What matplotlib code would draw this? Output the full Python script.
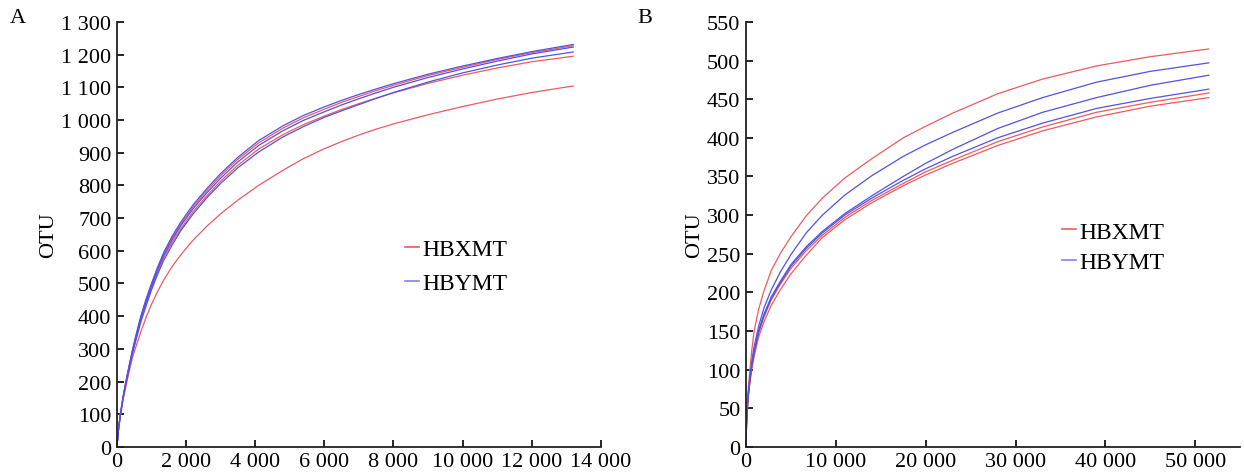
import matplotlib
matplotlib.use("Agg")
import matplotlib.pyplot as plt
from matplotlib.ticker import FuncFormatter
from matplotlib.lines import Line2D

plt.rcParams['font.family'] = ['Liberation Serif', 'DejaVu Serif']

# Panel A: rarefaction curves (sequences sampled vs. OTU)
xA = [0, 50, 100, 180, 260, 350, 450, 570, 700, 850, 1000, 1170, 1350, 1600,
      1850, 2200, 2600, 3000, 3500, 4100, 4800, 5400, 6000, 6500, 7000, 7500,
      8000, 9000, 10000, 11000, 12000, 13200]
a_red = [
    [0, 60, 100, 154, 199, 245, 295, 347, 400, 450, 496, 544, 589, 639, 682, 734,
     784, 830, 880, 930, 975, 1007, 1033, 1054, 1072, 1090, 1106, 1136, 1161, 1185, 1206, 1227],
    [0, 59, 98, 152, 196, 241, 290, 340, 391, 440, 486, 533, 578, 626, 668, 719,
     768, 813, 862, 911, 955, 986, 1012, 1032, 1050, 1067, 1083, 1112, 1137, 1159, 1178, 1195],
    [0, 57, 95, 145, 186, 229, 274, 313, 355, 398, 436, 474, 510, 552, 588, 632,
     675, 713, 755, 800, 846, 882, 912, 934, 954, 972, 988, 1016, 1041, 1064, 1084, 1104],
]
a_blue = [
    [0, 60, 100, 155, 200, 247, 297, 350, 403, 455, 500, 548, 594, 645, 688, 740,
     790, 836, 886, 937, 982, 1014, 1040, 1060, 1078, 1095, 1111, 1140, 1165, 1188, 1209, 1231],
    [0, 59, 99, 153, 198, 244, 293, 345, 397, 446, 492, 540, 585, 634, 677, 728,
     777, 822, 872, 922, 967, 999, 1025, 1046, 1065, 1083, 1100, 1130, 1156, 1180, 1202, 1223],
    [0, 58, 97, 150, 193, 237, 285, 334, 385, 433, 480, 526, 570, 618, 662, 712,
     762, 806, 854, 902, 948, 980, 1008, 1028, 1047, 1066, 1084, 1116, 1144, 1168, 1189, 1208],
]

# Panel B
xB = [0, 50, 100, 200, 400, 650, 900, 1400, 2000, 2800, 3800, 5000, 6700,
      8500, 11000, 14000, 17500, 20000, 23000, 28000, 33000, 39000, 45000, 51500]
b_red = [
    [0, 30, 45, 68, 96, 126, 150, 178, 202, 228, 250, 272, 299, 322, 348, 373,
     400, 415, 432, 457, 476, 493, 505, 515],
    [0, 28, 41, 61, 84, 105, 121, 147, 168, 190, 210, 231, 254, 274, 297, 319,
     341, 356, 371, 395, 414, 433, 446, 458],
    [0, 26, 38, 57, 80, 101, 117, 142, 162, 183, 203, 224, 248, 271, 294, 316,
     338, 352, 367, 390, 409, 427, 441, 452],
]
b_blue = [
    [0, 28, 42, 63, 88, 112, 130, 156, 180, 203, 226, 249, 277, 300, 326, 351,
     376, 391, 407, 432, 452, 472, 486, 497],
    [0, 27, 40, 60, 84, 106, 123, 150, 172, 194, 214, 236, 259, 279, 302, 325,
     350, 367, 385, 412, 433, 452, 468, 481],
    [0, 27, 40, 60, 83, 105, 122, 149, 170, 192, 212, 234, 257, 277, 300, 322,
     345, 360, 376, 400, 419, 438, 451, 463],
]

groups = ['HBXMT', 'HBYMT']
red = '#ee5a5e'
blue = '#5252e6'

fmt = FuncFormatter(lambda v, p: f'{int(v):,}'.replace(',', ' '))

fig = plt.figure(figsize=(12.44, 4.77), dpi=100)
axA = fig.add_axes([0.094, 0.061, 0.389, 0.891])
axB = fig.add_axes([0.5997, 0.061, 0.3973, 0.891])


def style(ax):
    for s in ['top', 'right']:
        ax.spines[s].set_visible(False)
    for s in ['left', 'bottom']:
        ax.spines[s].set_linewidth(1.3)
        ax.spines[s].set_color('#222222')
    ax.tick_params(direction='in', length=5, width=1.2, labelsize=16, pad=4)
    ax.xaxis.set_major_formatter(fmt)
    ax.yaxis.set_major_formatter(fmt)
    ax.set_ylabel('OTU', fontsize=16, labelpad=2)


for ys in a_red:
    axA.plot(xA, ys, color=red, lw=0.9)
for ys in a_blue:
    axA.plot(xA, ys, color=blue, lw=0.9)
axA.set_xlim(0, 14000)
axA.set_ylim(0, 1300)
axA.set_xticks(range(0, 14001, 2000))
axA.set_yticks(range(0, 1301, 100))
style(axA)

for ys in b_red:
    axB.plot(xB, ys, color=red, lw=0.9)
for ys in b_blue:
    axB.plot(xB, ys, color=blue, lw=0.9)
axB.set_xlim(0, 55000)
axB.set_ylim(0, 550)
axB.set_xticks(range(0, 50001, 10000))
axB.set_yticks(range(0, 551, 50))
style(axB)

handles = [Line2D([], [], color=red, lw=1.2), Line2D([], [], color='#8080f0', lw=1.2)]
axA.legend(handles, groups, loc='center left', bbox_to_anchor=(0.57, 0.425),
           frameon=False, fontsize=17, handlelength=0.6, handletextpad=0.15,
           labelspacing=0.52, borderpad=0)
axB.legend(handles, groups, loc='center left', bbox_to_anchor=(0.615, 0.47),
           frameon=False, fontsize=17, handlelength=0.6, handletextpad=0.15,
           labelspacing=0.38, borderpad=0)

fig.text(0.008, 0.962, 'A', fontsize=16, va='center')
fig.text(0.512, 0.962, 'B', fontsize=16, va='center')

fig.savefig('out.png', dpi=100)
